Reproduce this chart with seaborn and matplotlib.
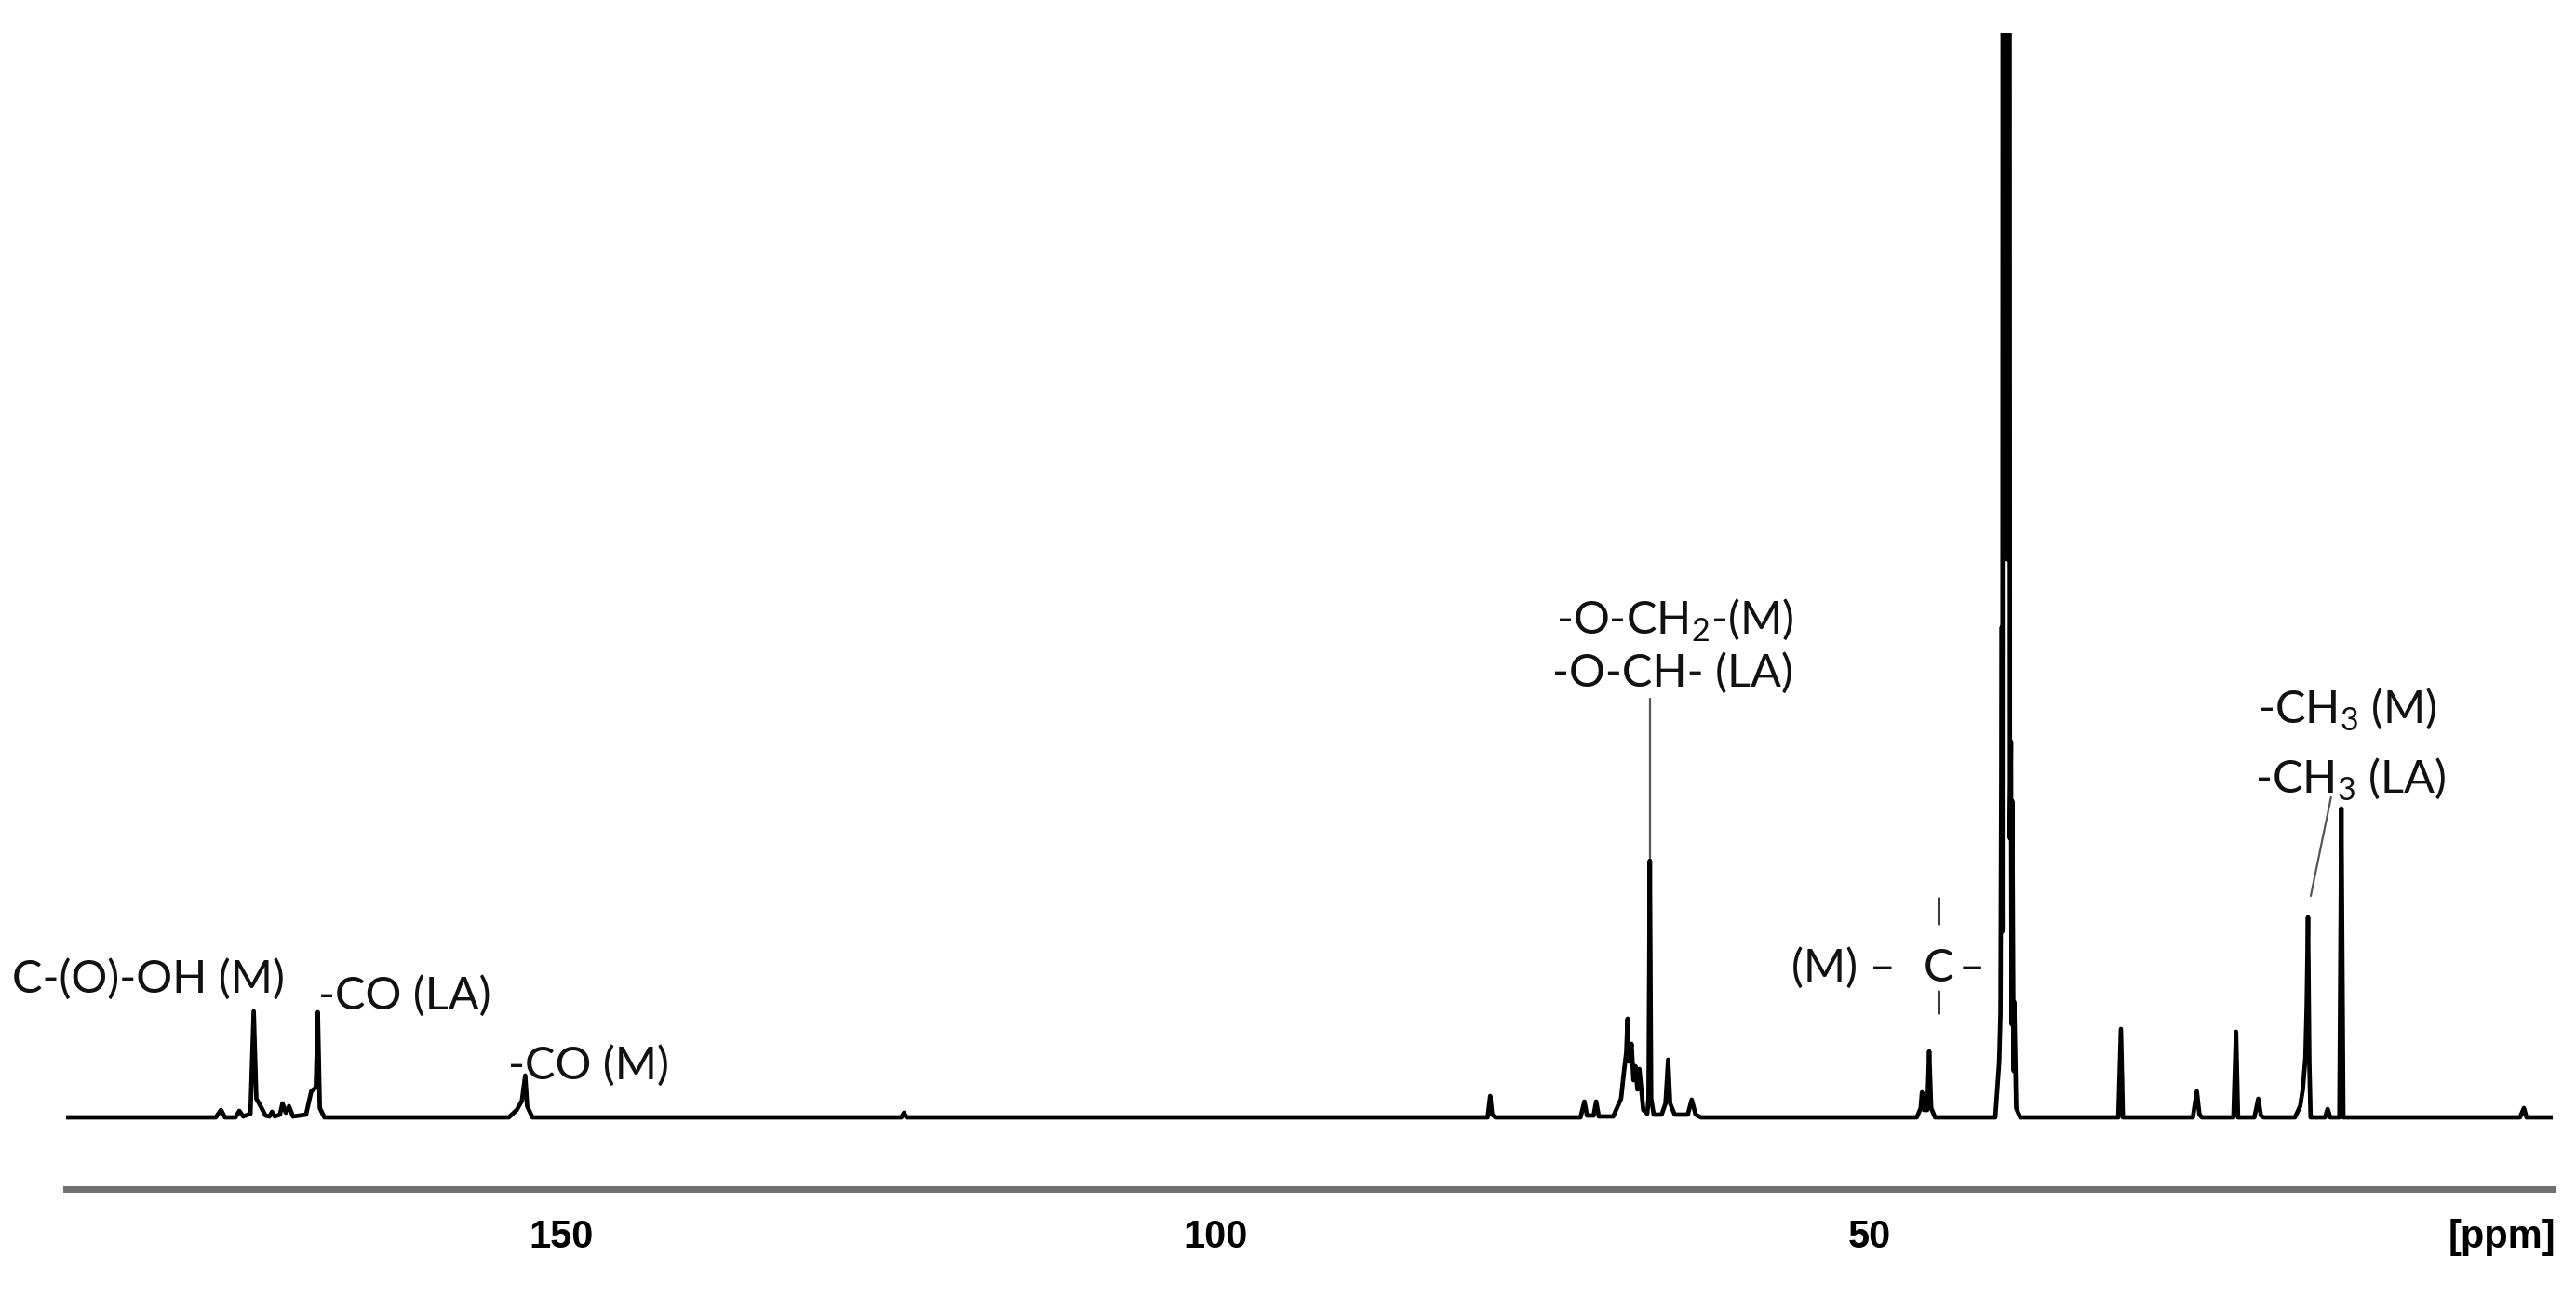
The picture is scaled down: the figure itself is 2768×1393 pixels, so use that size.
import pandas as pd
import seaborn as sns
import matplotlib.pyplot as plt
import matplotlib.transforms as mtransforms
from matplotlib.ticker import MultipleLocator

trace_ppm = [187.8, 176.4, 176.0, 175.7, 174.9, 174.6, 174.3, 173.75, 173.5, 173.3, 173.05, 172.6,
             172.3, 172.1, 171.9, 171.5, 171.3, 171.05, 170.8, 170.5, 169.5, 169.1, 168.75, 168.6,
             168.45, 168.1, 154.0, 153.4, 153.0, 152.75, 152.6, 152.2, 124.0, 123.8, 123.6,
             79.2, 79.0, 78.85, 78.6, 72.1, 71.8, 71.6, 71.1, 70.9, 70.7, 69.6, 69.0, 68.8, 68.6,
             68.5, 68.4, 68.2, 68.05, 67.9, 67.75, 67.6, 67.3, 67.0, 66.9, 66.8, 66.7, 66.5, 65.9,
             65.6, 65.4, 65.25, 64.9, 63.9, 63.6, 63.3, 62.9, 46.4, 46.1, 46.0, 45.85, 45.6, 45.45,
             45.3, 45.0, 40.4, 40.1, 40.0, 39.9, 39.85, 39.8, 39.72, 39.65, 39.57, 39.5, 39.42,
             39.35, 39.28, 39.2, 39.15, 39.1, 39.0, 38.95, 38.8, 38.5, 31.0, 30.8, 30.65, 25.3,
             25.0, 24.8, 24.6, 22.2, 22.0, 21.85, 20.6, 20.3, 20.1, 19.9, 17.5, 17.1, 16.9, 16.7,
             16.6, 16.5, 16.4, 16.3, 15.2, 15.0, 14.8, 14.1, 13.95, 13.8, 0.3, 0.0, -0.2, -2.2]
trace_int = [0, 0, 8, 0, 0, 7, 1, 4, 114, 20, 14, 2,
             1, 6, 1, 3, 15, 5, 12, 1, 3, 28, 32, 113,
             10, 0, 0, 8, 18, 45, 12, 0, 0, 5, 0,
             0, 23, 3, 0, 0, 17, 2, 2, 17, 1, 1, 20, 46, 70,
             106, 60, 79, 40, 55, 30, 52, 8, 4, 20, 276, 20, 3, 3,
             15, 62, 15, 3, 3, 19, 3, 0, 0, 10, 27, 8, 8, 71,
             10, 0, 0, 60, 113, 527, 200, 3000, 600, 3000, 600, 3000, 600,
             3000, 300, 404, 100, 340, 50, 124, 10, 0, 0, 95, 0, 0,
             28, 3, 0, 0, 92, 0, 0, 20, 2, 0, 0, 12, 30, 64,
             120, 215, 60, 0, 0, 9, 0, 0, 332, 0, 0, 10, 0, 0]

# peak assignments
label_text = ["C-(O)-OH (M)", "-CO (LA)", "-CO (M)",
              "-O-CH$_\\mathregular{2}$-(M)", "-O-CH- (LA)",
              "-CH$_\\mathregular{3}$ (M)", "-CH$_\\mathregular{3}$ (LA)"]
label_ppm = [192.0, 168.6, 154.05, 73.97, 74.25, 20.34, 20.55]
label_int = [134, 116, 41, 519, 463, 423, 348]

df = pd.DataFrame({"ppm": trace_ppm, "intensity": trace_int})

sns.set_style("white")
plt.rcParams["font.family"] = ["Lato", "DejaVu Sans"]
plt.rcParams["mathtext.fontset"] = "custom"
plt.rcParams["mathtext.rm"] = "Lato"

fig = plt.figure(figsize=(13.84, 6.965), dpi=200)
ax = fig.add_axes([0.02565, 0.08256, 0.9653, 0.8923])

sns.lineplot(data=df, x="ppm", y="intensity", sort=False, estimator=None,
             color="black", linewidth=1.7, ax=ax)

ax.set_xlim(187.84, -2.2)
ax.set_ylim(-77, 1166)
ax.set_xlabel("")
ax.set_ylabel("")
ax.set_yticks([])

for s in ["top", "left", "right"]:
    ax.spines[s].set_visible(False)
ax.spines["bottom"].set_color("#707070")
ax.spines["bottom"].set_linewidth(2.5)

ax.set_xticks([150, 100, 50, 0])
ax.set_xticklabels(["150", "100", "50", "[ppm]"])
ax.xaxis.set_minor_locator(MultipleLocator(10))
ax.tick_params(axis="x", which="major", direction="out", length=9.5, width=1.0,
               color="#333333", pad=2, labelcolor="black")
ax.tick_params(axis="x", which="minor", direction="out", length=5.4, width=1.0,
               color="#333333")
for lab in ax.get_xticklabels():
    lab.set_family(["Liberation Sans Narrow", "Liberation Sans", "DejaVu Sans"])
    lab.set_fontsize(15)
    lab.set_fontweight("bold")
ppm_lab = ax.get_xticklabels()[-1]
ppm_lab.set_transform(ppm_lab.get_transform() +
                      mtransforms.ScaledTranslation(-0.12, 0, fig.dpi_scale_trans))

for t, x, y in zip(label_text, label_ppm, label_int):
    ax.text(x, y, t, ha="left", va="baseline", fontsize=17.5, color="#111111")

# (M) - C - quaternary carbon label
ax.text(55.97, 146, "(M) \u2013", ha="left", va="baseline", fontsize=17.5, color="#111111")
ax.text(44.74, 146, "C", ha="center", va="baseline", fontsize=17.5, color="#111111")
ax.text(43.2, 146, "\u2013", ha="left", va="baseline", fontsize=17.5, color="#111111")
ax.plot([44.74, 44.74], [208, 236], color="#222222", lw=1.0)
ax.plot([44.74, 44.74], [112, 136], color="#222222", lw=1.0)

# leader lines
ax.plot([66.8, 66.8], [450, 279], color="#555555", lw=0.8)
ax.plot([14.74, 16.29], [344, 238], color="#555555", lw=0.8)

fig.savefig("out.png", dpi=200)
